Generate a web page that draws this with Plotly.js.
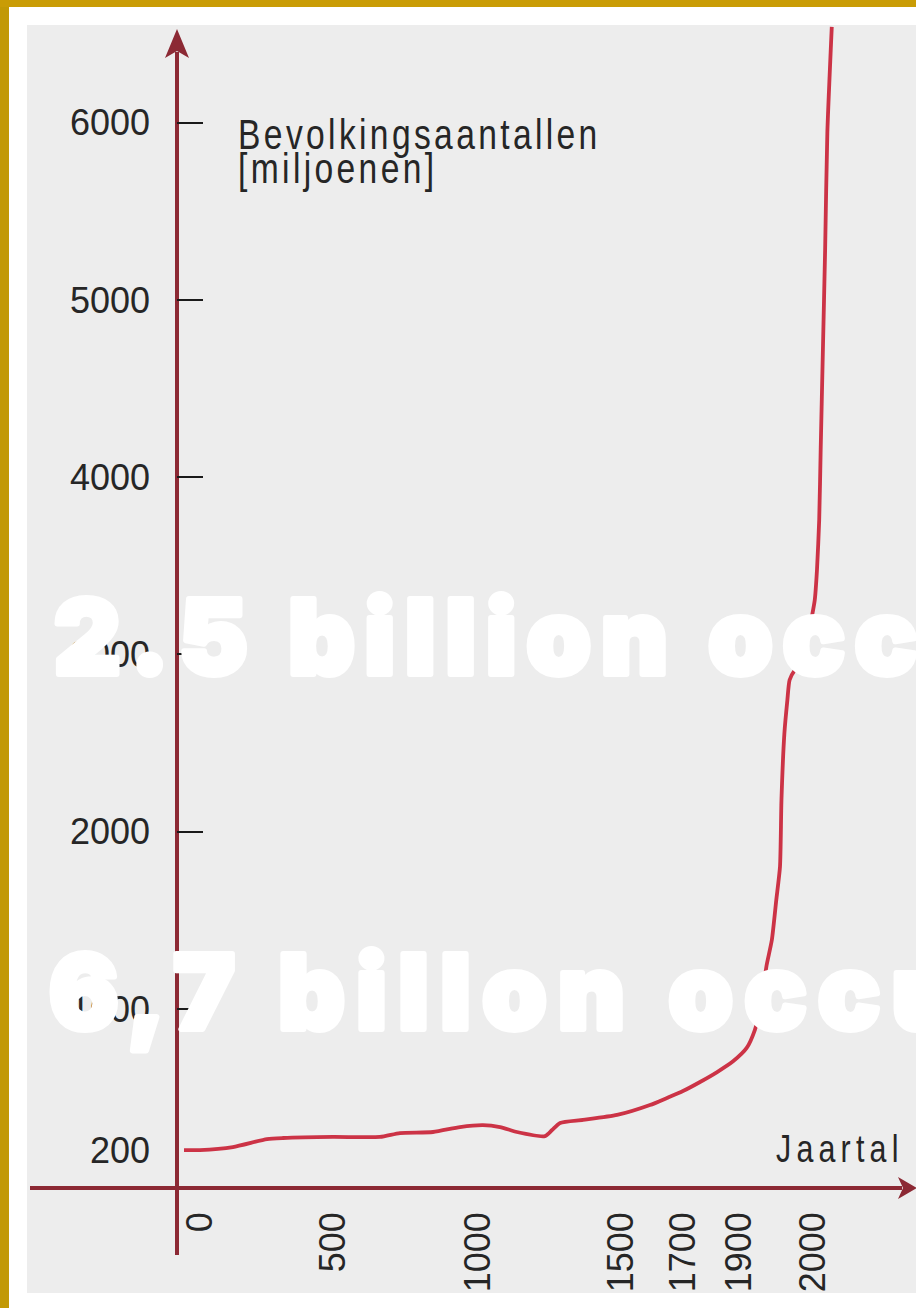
<!DOCTYPE html>
<html>
<head>
<meta charset="utf-8">
<script src="https://cdn.plot.ly/plotly-3.0.1.min.js"></script>
<style>
  html, body { margin:0; padding:0; background:#ffffff; }
  body { width:916px; height:1308px; overflow:hidden; position:relative; }
  .blk { position:absolute; }
  #goldL { left:0; top:0; width:9px; height:1308px; background:#C29905; }
  #goldT { left:0; top:0; width:916px; height:7px; background:#C99C05; }
  #panel { left:27px; top:25px; width:889px; height:1268px; background:#EDEDED; }
  #chart { position:absolute; left:0; top:0; width:916px; height:1308px; }
</style>
</head>
<body>
<div class="blk" id="goldL"></div>
<div class="blk" id="goldT"></div>
<div class="blk" id="panel"></div>
<div id="chart"></div>
<script>
// ---------------- DATA ----------------
const years = [0, 60, 184, 312, 372, 555, 717, 786, 900, 993, 1073, 1133, 1192, 1290, 1315, 1343, 1423, 1539, 1645, 1700,
               1757, 1818, 1879, 1914, 1932, 1943, 1950, 1954, 1959, 1966, 1972, 1977, 1979, 1983, 1987, 1990, 1997,
               2004, 2013, 2020, 2024, 2027, 2030, 2032, 2035, 2038, 2041, 2047];
const population = [204, 204, 221, 266, 272, 278, 278, 300, 306, 334, 345, 334, 306, 283, 317, 357, 374, 402, 458, 498,
                    537, 588, 644, 706, 780, 881, 994, 1107, 1248, 1389, 1615, 1801, 2179, 2557, 2743, 2856, 2912,
                    2941, 3065, 3211, 3307, 3477, 3759, 4154, 4718, 5282, 5942, 6540];
const xTickYears = [0, 500, 1000, 1500, 1700, 1900, 2000];
const yTickLabels = [200, 1000, 2000, 3000, 4000, 5000, 6000];
const yTickMarks = [1000, 2000, 3000, 4000, 5000, 6000];
const yTitleLines = ["Bevolkingsaantallen", "[miljoenen]"];
const xTitle = "Jaartal";
const overlayTexts = ["2.5 billion occ", "6,7 billon occu"];

// ---------------- SCALE (non-uniform year axis of the drawing) ----------------
const X_SCALE = { years: [0, 500, 1000, 1500, 1700, 1900, 2000], pos: [184, 317, 462, 605, 667, 723, 797] };
function toU(yr) {
  const ky = X_SCALE.years, kp = X_SCALE.pos;
  let i = 0;
  while (i < ky.length - 2 && yr > ky[i + 1]) i++;
  const t = (yr - ky[i]) / (ky[i + 1] - ky[i]);
  return kp[i] + t * (kp[i + 1] - kp[i]);
}

// ---------------- LAYOUT HELPERS ----------------
const W = 916, H = 1308, L = 177, B = 120, T = 25, R = 0;
const PW = W - L - R, PH = H - T - B;
const PX = x => (x - L) / PW;
const PY = y => (H - B - y) / PH;
const AX = '#8C2934';
const LINE = '#CC3346';
const TXT = '#262626';

const traces = [
  { x: years.map(toU), y: population, type: 'scatter', mode: 'lines',
    line: { color: LINE, width: 3.8, shape: 'spline', smoothing: 0.6 }, hoverinfo: 'skip' },
  { x: [], y: [], type: 'scatter', mode: 'lines', yaxis: 'y2', hoverinfo: 'skip' }
];

const shapes = [
  { type: 'line', xref: 'paper', yref: 'paper', x0: PX(177), x1: PX(177), y0: PY(1255), y1: PY(52),
    line: { color: AX, width: 4 }, layer: 'below' },
  { type: 'path', xref: 'paper', yref: 'paper', layer: 'below', fillcolor: AX, line: { width: 0 },
    path: `M ${PX(177)},${PY(29)} L ${PX(165)},${PY(58)} L ${PX(177)},${PY(51)} L ${PX(189)},${PY(58)} Z` },
  { type: 'line', xref: 'paper', yref: 'paper', x0: PX(30), x1: PX(902), y0: PY(1188), y1: PY(1188),
    line: { color: AX, width: 4 }, layer: 'below' },
  { type: 'path', xref: 'paper', yref: 'paper', layer: 'below', fillcolor: AX, line: { width: 0 },
    path: `M ${PX(917)},${PY(1188)} L ${PX(898)},${PY(1177)} L ${PX(903)},${PY(1188)} L ${PX(898)},${PY(1199)} Z` }
];

const sans = 'Liberation Sans, Arial, sans-serif';
const heavy = 'Inter, Lato, Roboto, sans-serif';
const annotations = [
  { text: yTitleLines[0], xref: 'paper', yref: 'paper', x: PX(236), y: PY(109), xanchor: 'left', yanchor: 'top',
    showarrow: false, font: { family: sans, size: 42, color: TXT } },
  { text: yTitleLines[1], xref: 'paper', yref: 'paper', x: PX(236), y: PY(143), xanchor: 'left', yanchor: 'top',
    showarrow: false, font: { family: sans, size: 42, color: TXT } },
  { text: xTitle, xref: 'paper', yref: 'paper', x: PX(774), y: PY(1126), xanchor: 'left', yanchor: 'top',
    showarrow: false, font: { family: sans, size: 38, color: TXT } },
  { text: overlayTexts[0], xref: 'paper', yref: 'paper', x: PX(52), y: PY(572), xanchor: 'left', yanchor: 'top',
    showarrow: false, font: { family: heavy, size: 103, color: '#FFFFFF', weight: 900 } },
  { text: overlayTexts[1], xref: 'paper', yref: 'paper', x: PX(47), y: PY(927), xanchor: 'left', yanchor: 'top',
    showarrow: false, font: { family: heavy, size: 103, color: '#FFFFFF', weight: 900 } }
];

const tickFont = { family: sans, size: 36, color: TXT };
const layout = {
  width: W, height: H,
  margin: { l: L, r: R, t: T, b: B, pad: 0 },
  paper_bgcolor: 'rgba(0,0,0,0)', plot_bgcolor: 'rgba(0,0,0,0)',
  showlegend: false,
  xaxis: { range: [L, W], showgrid: false, zeroline: false, showline: false, ticks: '',
           tickmode: 'array', tickvals: xTickYears.map(toU), ticktext: xTickYears.map(String),
           tickangle: -90, tickfont: tickFont, ticklabelstandoff: 16, ticklabelshift: 16, fixedrange: true },
  yaxis: { range: [-10, 6551], showgrid: false, zeroline: false, showline: false, ticks: '',
           tickmode: 'array', tickvals: yTickLabels, ticktext: yTickLabels.map(String),
           tickfont: tickFont, ticklabelstandoff: 26, fixedrange: true },
  yaxis2: { range: [-10, 6551], overlaying: 'y', side: 'left', anchor: 'x', showgrid: false, zeroline: false,
            showline: false, tickmode: 'array', tickvals: yTickMarks, showticklabels: false,
            ticks: 'inside', ticklen: 26, tickwidth: 2, tickcolor: '#1a1a1a', fixedrange: true },
  shapes: shapes,
  annotations: annotations
};

// letter-spacing / condensing of the drawn texts, keeping each text's left edge in place
function adjust(el, ls, sx, stroke) {
  const b0 = el.getBBox();
  el.style.letterSpacing = ls + 'px';
  if (stroke) {
    el.style.stroke = '#FFFFFF';
    el.style.strokeWidth = stroke + 'px';
    el.style.strokeLinejoin = 'round';
  }
  const b1 = el.getBBox();
  el.setAttribute('transform', `translate(${b0.x} 0) scale(${sx} 1) translate(${-b1.x} 0)`);
}
function styleTexts(gd) {
  gd.querySelectorAll('text.annotation-text').forEach(el => {
    const t = el.textContent;
    if (t === yTitleLines[0] || t === yTitleLines[1]) adjust(el, 4.2, 0.8, 0);
    else if (t === xTitle) adjust(el, 6.5, 0.8, 0);
    else if (t === overlayTexts[0]) adjust(el, 10, 1, 6);
    else if (t === overlayTexts[1]) adjust(el, 11.5, 1, 6);
  });
}

Plotly.newPlot('chart', traces, layout, { displayModeBar: false, staticPlot: true }).then(gd => {
  styleTexts(gd);
});
</script>
</body>
</html>
